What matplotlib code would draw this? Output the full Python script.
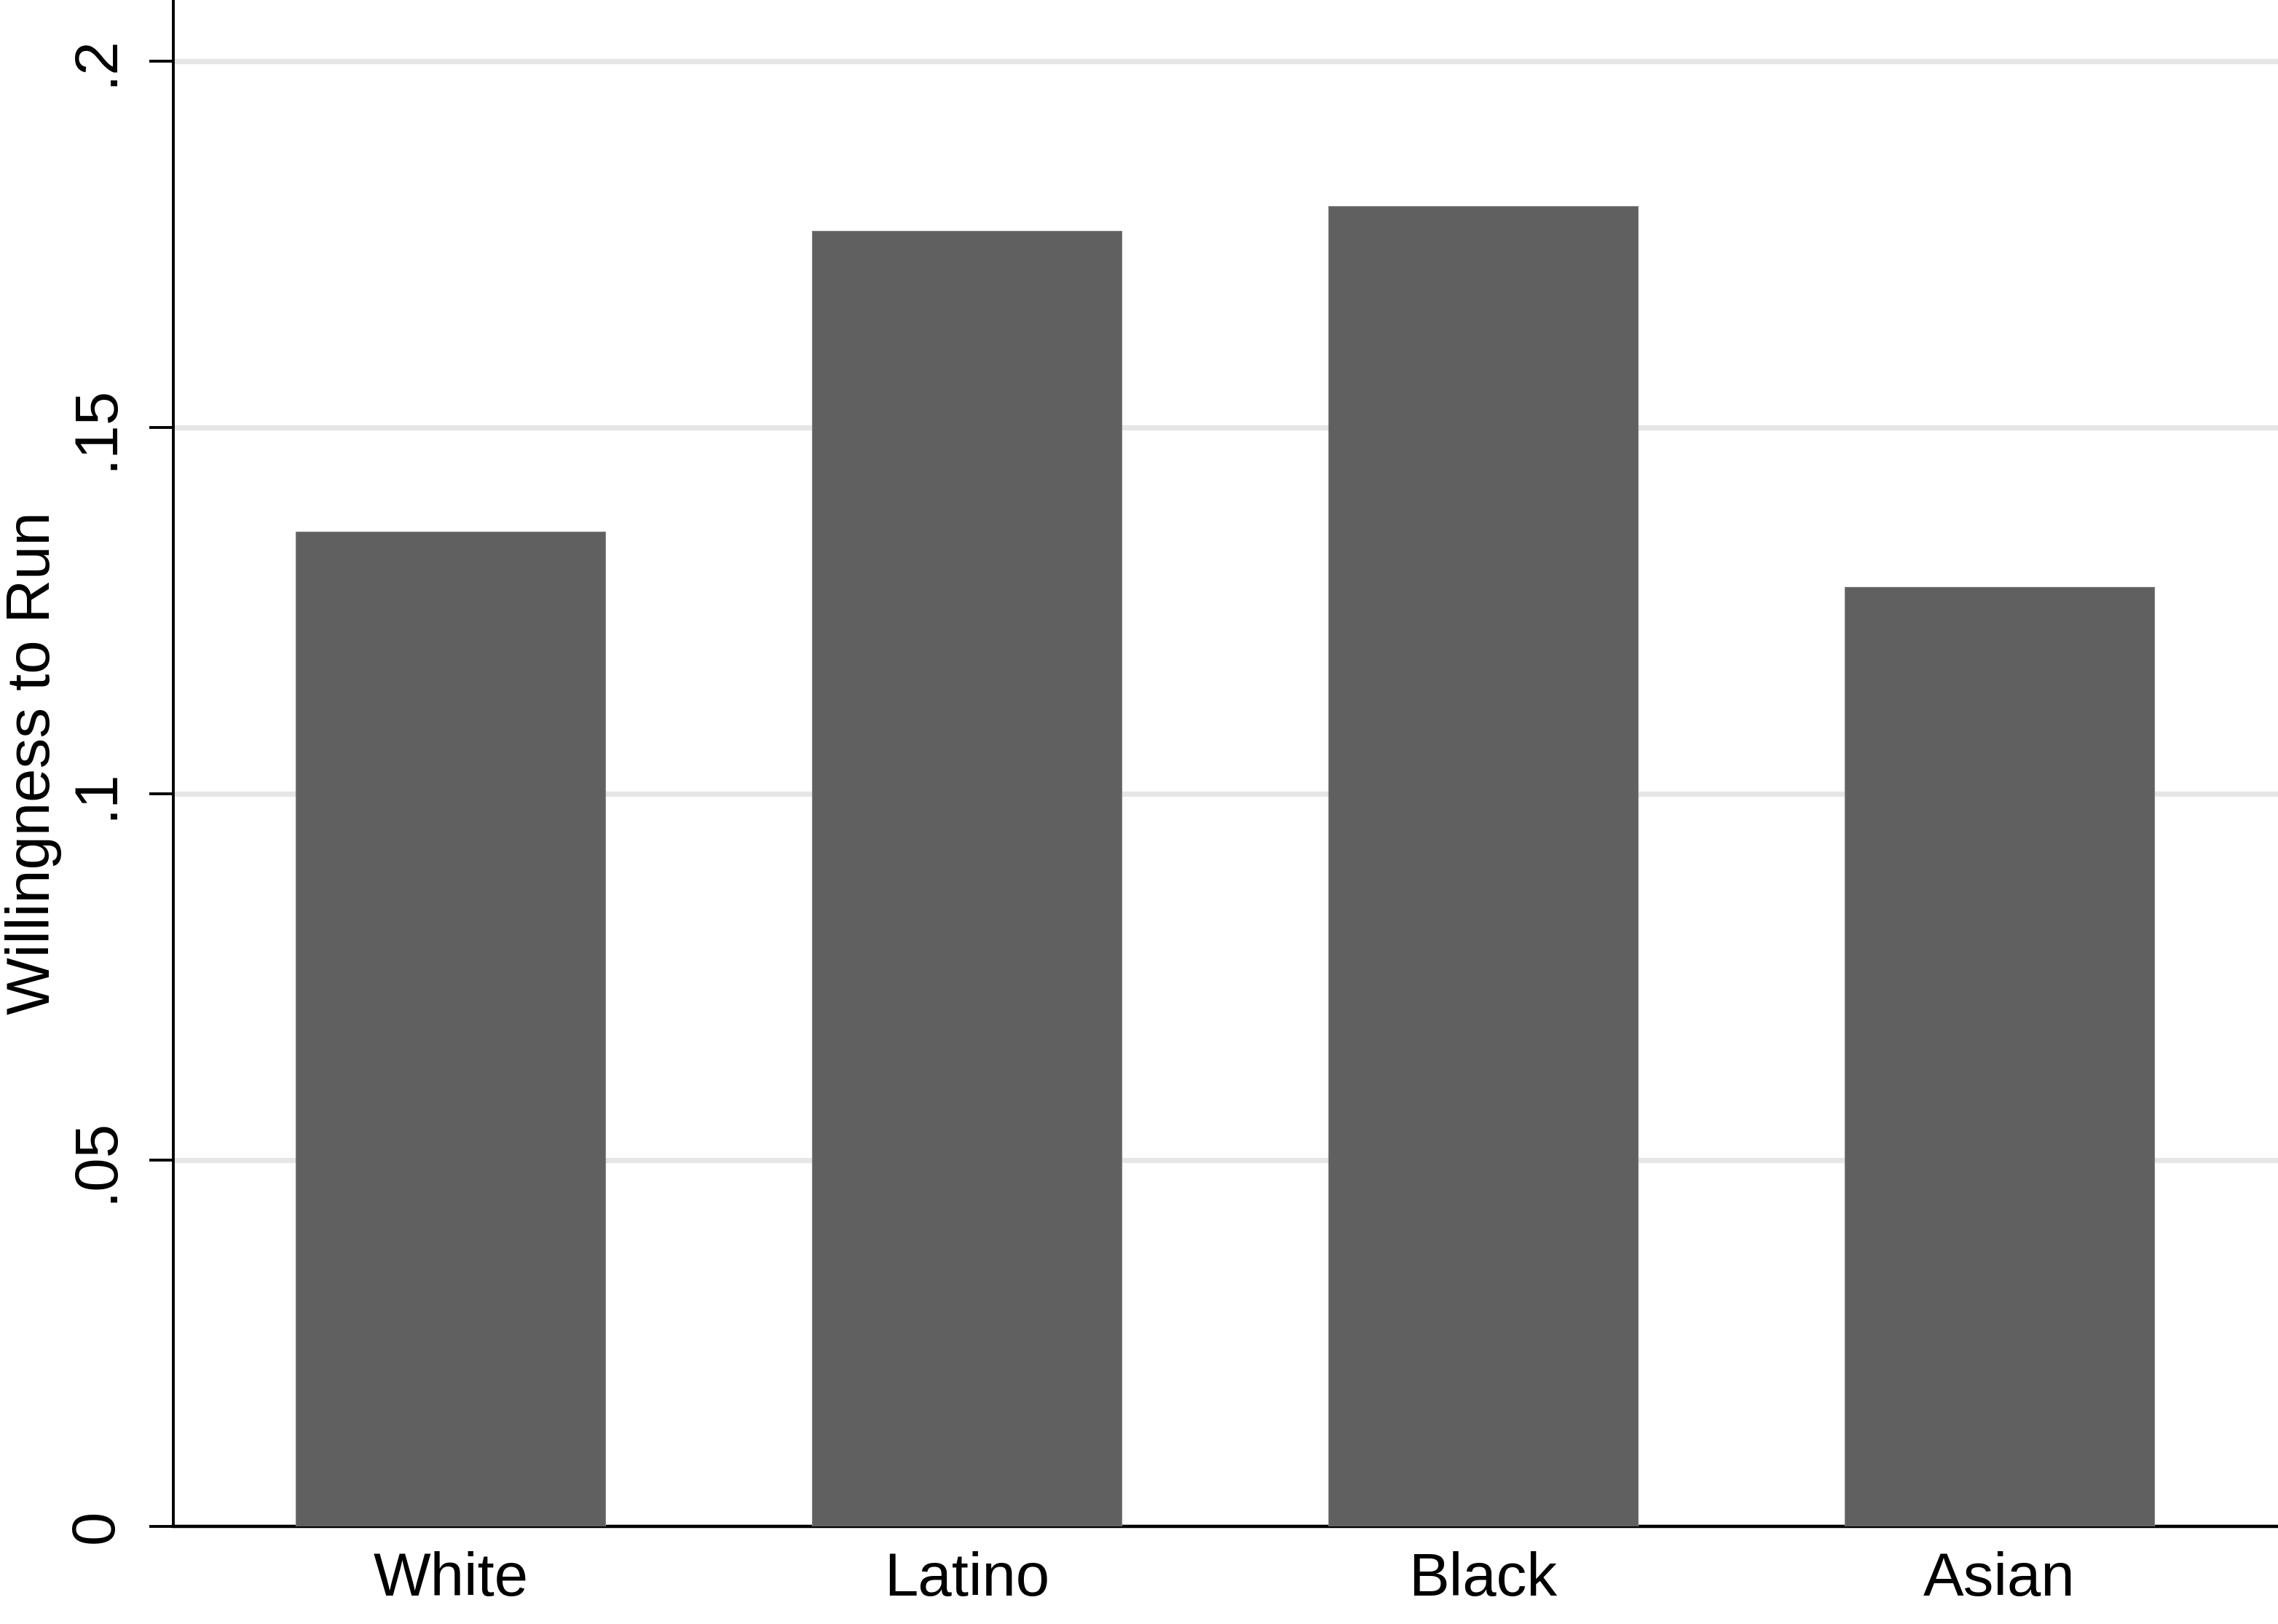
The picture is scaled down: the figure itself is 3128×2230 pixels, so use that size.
import matplotlib.pyplot as plt
import numpy as np

groups = ["White", "Latino", "Black", "Asian"]
willingness = [0.1358, 0.1768, 0.1802, 0.1282]
yticks = [0, 0.05, 0.1, 0.15, 0.2]
ytick_labels = ["0", ".05", ".1", ".15", ".2"]

plt.rcParams['font.family'] = ['Liberation Sans', 'DejaVu Sans']

fig = plt.figure(figsize=(15.64, 11.15), dpi=200)
ax = fig.add_axes([0.0761, 0.060, 0.9239, 0.940])

x = np.arange(len(groups))
ax.bar(x, willingness, width=0.6, color='#606060', edgecolor='#808080', linewidth=0.4, zorder=3)

ax.set_xlim(-0.537, 3.54)
ax.set_ylim(0, 0.2083)
ax.set_yticks(yticks)
ax.set_yticklabels(ytick_labels, rotation=90, va='center')
ax.set_xticks(x)
ax.set_xticklabels(groups)
ax.yaxis.grid(True, color='#e6e6e6', linewidth=2.6, zorder=0)
ax.set_axisbelow(True)

for side in ['top', 'right']:
    ax.spines[side].set_visible(False)
ax.spines['left'].set_linewidth(1.4)
ax.spines['bottom'].set_linewidth(1.6)

ax.tick_params(axis='y', length=12, width=1.4, pad=12, labelsize=30)
ax.tick_params(axis='x', length=0, pad=12, labelsize=30)

fig.text(0.0147, 0.53, "Willingness to Run", fontsize=30, rotation=90,
         ha='center', va='center')

fig.savefig("out.png", dpi=200)
